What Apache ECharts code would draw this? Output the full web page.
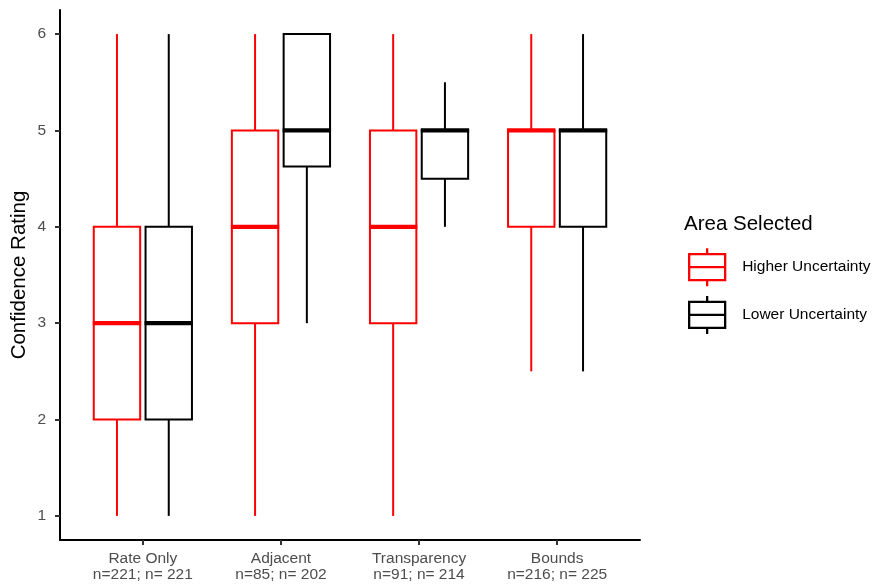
<!DOCTYPE html>
<html>
<head>
<meta charset="utf-8">
<script src="https://cdn.jsdelivr.net/npm/echarts@6/dist/echarts.min.js"></script>
<style>html,body{margin:0;padding:0;background:#fff}#c{width:875px;height:585px}</style>
</head>
<body>
<div id="c"></div>
<script>
// ---- data ----
const categories = ['Rate Only', 'Adjacent', 'Transparency', 'Bounds'];
const nLabels = ['n=221; n= 221', 'n=85; n= 202', 'n=91; n= 214', 'n=216; n= 225'];
// [low whisker, Q1, median, Q3, high whisker]
const higherStats = [[1, 2, 3, 4, 6], [1, 3, 4, 5, 6], [1, 3, 4, 5, 6], [2.5, 4, 5, 5, 6]];
const lowerStats = [[1, 2, 3, 4, 6], [3, 4.625, 5, 6, 6], [4, 4.5, 5, 5, 5.5], [2.5, 4, 5, 5, 6]];
const yTicks = [1, 2, 3, 4, 5, 6];
const seriesNames = ['Higher Uncertainty', 'Lower Uncertainty'];
const seriesColors = ['#FF0000', '#000000'];

const FONT = '"Liberation Sans", Arial, sans-serif';
const xPositions = categories.map((c, i) => i + 1);

function makeRender(dodge, color) {
  return function (params, api) {
    const x = api.value(0);
    const lo = api.value(1), q1 = api.value(2), med = api.value(3), q3 = api.value(4), hi = api.value(5);
    const bw = api.size([1, 0])[0];
    const cx = api.coord([x, 0])[0] + dodge * bw;
    const half = 0.168 * bw;
    const y = v => api.coord([x, v])[1];
    const yLo = y(lo), yQ1 = y(q1), yMed = y(med), yQ3 = y(q3), yHi = y(hi);
    const children = [];
    if (yLo - yQ1 > 0.5) children.push({ type: 'line', shape: { x1: cx, y1: yQ1, x2: cx, y2: yLo }, style: { stroke: color, lineWidth: 2 } });
    if (yQ3 - yHi > 0.5) children.push({ type: 'line', shape: { x1: cx, y1: yQ3, x2: cx, y2: yHi }, style: { stroke: color, lineWidth: 2 } });
    children.push({ type: 'rect', shape: { x: cx - half, y: yQ3, width: 2 * half, height: yQ1 - yQ3 }, style: { fill: '#fff', stroke: color, lineWidth: 2 } });
    children.push({ type: 'line', shape: { x1: cx - half - 1, y1: yMed, x2: cx + half + 1, y2: yMed }, style: { stroke: color, lineWidth: 4.2 } });
    return { type: 'group', children: children };
  };
}

const statsList = [higherStats, lowerStats];
const dodges = [-0.1875, 0.1875];
const legendIcon = 'path://M18,0L18,6M0,6L36,6L36,32L0,32ZM0,19L36,19M18,32L18,38';

const chart = echarts.init(document.getElementById('c'), null, { renderer: 'canvas' });
chart.setOption({
  backgroundColor: '#fff',
  animation: false,
  textStyle: { fontFamily: FONT },
  title: {
    text: 'Area Selected',
    left: 684, top: 214, padding: 0,
    textStyle: { fontFamily: FONT, fontSize: 20.5, fontWeight: 'normal', color: '#000' }
  },
  legend: {
    orient: 'vertical',
    left: 688, top: 247, padding: 0,
    itemWidth: 36, itemHeight: 38, itemGap: 7.5,
    selectedMode: false,
    textStyle: { fontFamily: FONT, fontSize: 15.5, color: '#000', padding: [0, 0, 0, 12] },
    data: seriesNames.map((n, i) => ({
      name: n,
      icon: legendIcon,
      itemStyle: { color: 'rgba(0,0,0,0)', borderColor: seriesColors[i], borderWidth: 2.3 }
    }))
  },
  grid: { left: 60, right: 235, top: 10, bottom: 45, containLabel: false, outerBoundsMode: 'none' },
  xAxis: {
    type: 'value',
    min: 0.4, max: 4.6,
    axisLine: { show: true, lineStyle: { color: '#000', width: 2 } },
    axisTick: { show: true, customValues: xPositions, length: 5, lineStyle: { color: '#333', width: 2 } },
    axisLabel: {
      customValues: xPositions,
      margin: 11,
      fontFamily: FONT, fontSize: 15.5, color: '#4D4D4D', lineHeight: 16,
      formatter: v => {
        const i = Math.round(v) - 1;
        return categories[i] + '\n' + nLabels[i];
      }
    },
    splitLine: { show: false }
  },
  yAxis: {
    type: 'value',
    min: 0.75, max: 6.25,
    name: 'Confidence Rating',
    nameLocation: 'middle',
    nameGap: 30,
    nameMoveOverlap: false,
    nameTextStyle: { fontFamily: FONT, fontSize: 20.5, color: '#000' },
    axisLine: { show: true, lineStyle: { color: '#000', width: 2 } },
    axisTick: { show: true, customValues: yTicks, length: 5, lineStyle: { color: '#333', width: 2 } },
    axisLabel: { customValues: yTicks, margin: 14, fontFamily: FONT, fontSize: 15.5, color: '#4D4D4D' },
    splitLine: { show: false }
  },
  series: seriesNames.map((name, s) => ({
    name: name,
    type: 'custom',
    renderItem: makeRender(dodges[s], seriesColors[s]),
    itemStyle: { color: seriesColors[s] },
    encode: { x: 0, y: [1, 2, 3, 4, 5] },
    data: categories.map((c, i) => [xPositions[i]].concat(statsList[s][i]))
  }))
});
</script>
</body>
</html>
